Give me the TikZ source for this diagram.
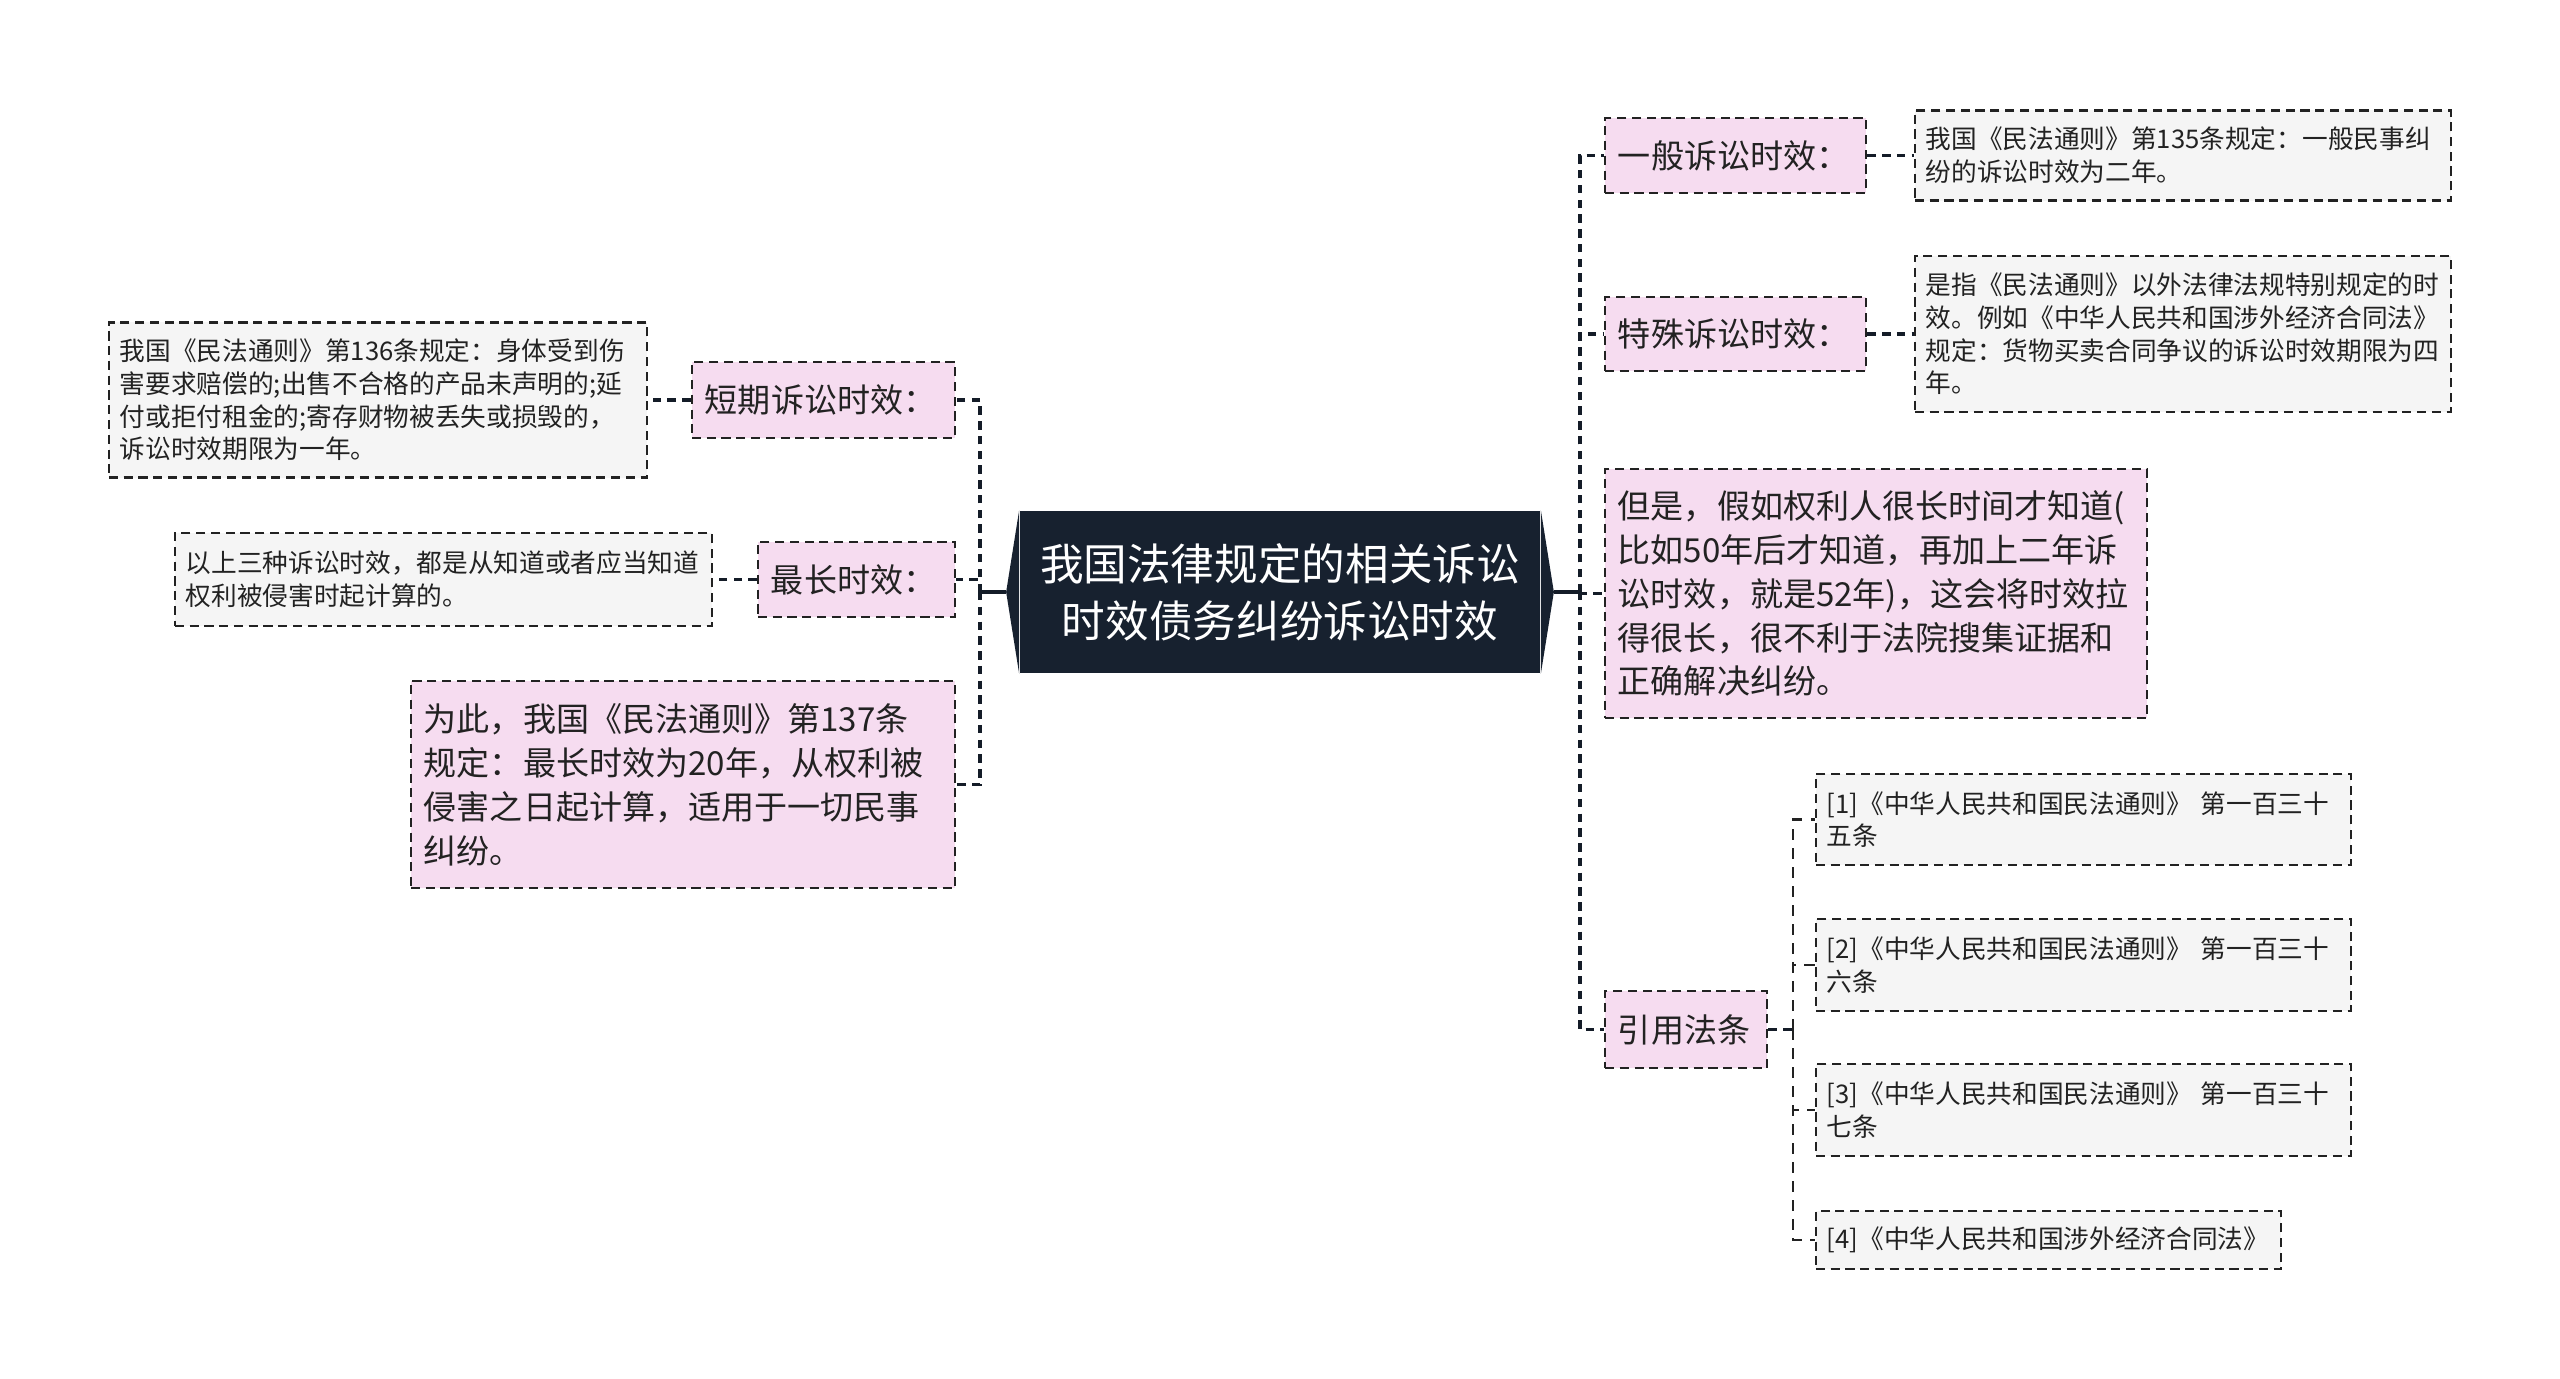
\documentclass[tikz,border=0pt]{standalone}
\usepackage{fontspec}
\setmainfont{Noto Sans CJK SC}
\usetikzlibrary{positioning}

\definecolor{rootbg}{HTML}{17212F}
\definecolor{topicbg}{HTML}{F6DCF0}
\definecolor{leafbg}{HTML}{F5F5F5}
\definecolor{edgec}{HTML}{222222}
\definecolor{linkc}{HTML}{141C28}
\definecolor{textc}{HTML}{222222}

\tikzset{
  link/.style={draw=linkc, line width=1.1pt, dash pattern=on 2.4pt off 1.8pt},
  thinlink/.style={draw=edgec, line width=0.6pt, dash pattern=on 3pt off 2.4pt},
  topic/.style={draw=edgec, line width=0.7pt, dash pattern=on 2.6pt off 1.6pt,
    fill=topicbg, text=textc, inner xsep=0.13cm, inner ysep=0pt, align=left,
    font=\fontsize{9.4pt}{12.5pt}\selectfont},
  leaf/.style={draw=edgec, line width=0.7pt, dash pattern=on 2.6pt off 1.6pt,
    fill=leafbg, text=textc, inner xsep=0.11cm, inner ysep=0pt, align=left,
    font=\fontsize{7.3pt}{9.3pt}\selectfont}
}

\begin{document}
\begin{tikzpicture}[x=0.01cm, y=-0.01cm]
  \useasboundingbox (0,0) rectangle (2560,1379);

  % centre
  \node[fill=rootbg, text=white, inner sep=0pt, align=center,
    minimum width=5.20cm, minimum height=1.62cm,
    font=\fontsize{12.4pt}{16.2pt}\selectfont] (root) at (1280,592)
    {我国法律规定的相关诉讼\\时效债务纠纷诉讼时效};
  \coordinate (rootL) at ([xshift=-0.13cm]root.west);
  \coordinate (rootR) at ([xshift=0.13cm]root.east);
  \fill[rootbg] (root.north west) -- (rootL) -- (root.south west) -- cycle;
  \fill[rootbg] (root.north east) -- (rootR) -- (root.south east) -- cycle;

  % left side
  \node[topic, text width=2.37cm, minimum height=0.76cm] (dq) at (823.5,400) {短期诉讼时效：};
  \node[leaf, text width=5.16cm, minimum height=1.55cm] (dql) at (378,400)
    {我国《民法通则》第136条规定：身体受到伤\\害要求赔偿的;出售不合格的产品未声明的;延\\付或拒付租金的;寄存财物被丢失或损毁的，\\诉讼时效期限为一年。};
  \node[topic, text width=1.71cm, minimum height=0.75cm] (zc) at (856.5,579.5) {最长时效：};
  \node[leaf, text width=5.15cm, minimum height=0.93cm] (zcl) at (443.5,579.5)
    {以上三种诉讼时效，都是从知道或者应当知道\\权利被侵害时起计算的。};
  \node[topic, text width=5.18cm, minimum height=2.07cm] (wc) at (683,784.5)
    {为此，我国《民法通则》第137条\\规定：最长时效为20年，从权利被\\侵害之日起计算，适用于一切民事\\纠纷。};

  % right side
  \node[topic, text width=2.35cm, minimum height=0.75cm] (yb) at (1735.5,155.5) {一般诉讼时效：};
  \node[leaf, text width=5.14cm, minimum height=0.90cm] (ybl) at (2183,155.5)
    {我国《民法通则》第135条规定：一般民事纠\\纷的诉讼时效为二年。};
  \node[topic, text width=2.35cm, minimum height=0.74cm] (ts) at (1735.5,334) {特殊诉讼时效：};
  \node[leaf, text width=5.14cm, minimum height=1.56cm] (tsl) at (2183,334)
    {是指《民法通则》以外法律法规特别规定的时\\效。例如《中华人民共和国涉外经济合同法》\\规定：货物买卖合同争议的诉讼时效期限为四\\年。};
  \node[topic, text width=5.16cm, minimum height=2.49cm] (dsh) at (1876,593.5)
    {但是，假如权利人很长时间才知道(\\比如50年后才知道，再加上二年诉\\讼时效，就是52年)，这会将时效拉\\得很长，很不利于法院搜集证据和\\正确解决纠纷。};
  \node[topic, text width=1.36cm, minimum height=0.77cm] (yy) at (1686,1029.5) {引用法条};
  \node[leaf, text width=5.13cm, minimum height=0.91cm] (r1) at (2083.5,819.5)
    {[1]《中华人民共和国民法通则》 第一百三十\\五条};
  \node[leaf, text width=5.13cm, minimum height=0.92cm] (r2) at (2083.5,965)
    {[2]《中华人民共和国民法通则》 第一百三十\\六条};
  \node[leaf, text width=5.13cm, minimum height=0.92cm] (r3) at (2083.5,1110)
    {[3]《中华人民共和国民法通则》 第一百三十\\七条};
  \node[leaf, text width=4.43cm, minimum height=0.58cm] (r4) at (2048.5,1240)
    {[4]《中华人民共和国涉外经济合同法》};

  % connectors
  \coordinate (lj) at (980,592);
  \coordinate (rj) at (1580,592);
  \coordinate (fj) at (1793,1029.5);
  \draw[link, solid] (rootL) -- (lj);
  \draw[link] (lj) |- (dq.east);
  \draw[link] (lj) |- (zc.east);
  \draw[link] (lj) |- (wc.east);
  \draw[link] (dq.west) -- (dql.east);
  \draw[link] (zc.west) -- (zcl.east);
  \draw[link, solid] (rootR) -- (rj);
  \draw[link] (rj) |- (yb.west);
  \draw[link] (rj) |- (ts.west);
  \draw[link] (rj) |- (dsh.west);
  \draw[link] (rj) |- (yy.west);
  \draw[link] (yb.east) -- (ybl.west);
  \draw[link] (ts.east) -- (tsl.west);
  \draw[link] (yy.east) -- (fj);
  \draw[thinlink] (fj) |- (r1.west);
  \draw[thinlink] (fj) |- (r2.west);
  \draw[thinlink] (fj) |- (r3.west);
  \draw[thinlink] (fj) |- (r4.west);
\end{tikzpicture}
\end{document}
